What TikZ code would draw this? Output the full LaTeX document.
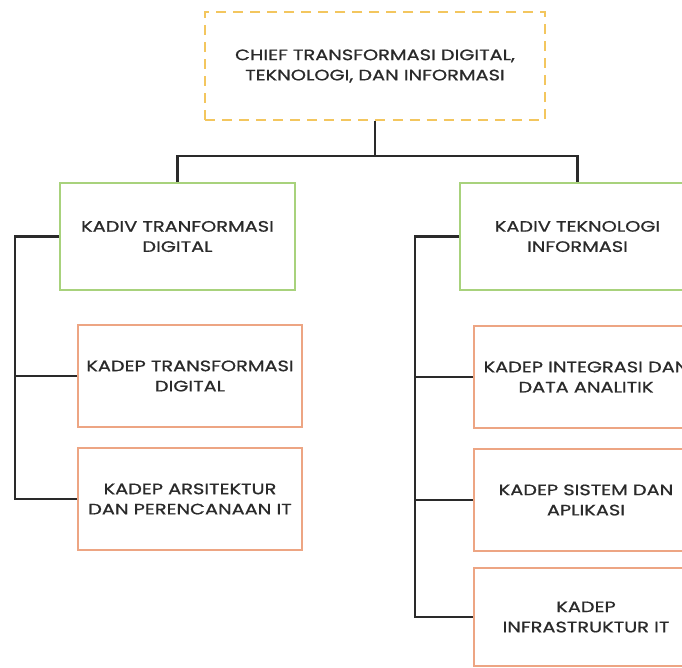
\documentclass[tikz,border=0pt]{standalone}
\usepackage{fontspec}
\setmainfont{Poppins}[FakeStretch=1.28, FakeBold=0.9]
\usepackage{tikz}

\definecolor{chiefline}{HTML}{F3C65E}
\definecolor{kadivline}{HTML}{A8D27C}
\definecolor{kadepline}{HTML}{EDA583}
\definecolor{inkgray}{HTML}{2A2A2A}

\tikzset{
  box/.style={draw, align=center, text=inkgray, font=\fontsize{8.6}{11.5}\selectfont, line width=0.9pt},
  chiefbox/.style={box, draw=chiefline, dash pattern=on 5.7pt off 4pt, minimum width=6.8cm, minimum height=2.16cm},
  kadivbox/.style={box, draw=kadivline, minimum width=4.7cm, minimum height=2.14cm},
  kadepbox/.style={box, draw=kadepline, minimum width=4.48cm, minimum height=2.04cm},
  link/.style={draw=inkgray, line width=1.2pt}
}

\begin{document}
\begin{tikzpicture}

\path[use as bounding box, clip] (0,0) rectangle (13.64,-13.36);

% Top Node
\node[chiefbox] (chief) at (7.5,-1.32) {CHIEF TRANSFORMASI DIGITAL,\\ TEKNOLOGI, DAN INFORMASI};

% Level 1: Divisions
\node[kadivbox] (kadivtd) at (3.55,-4.73) {KADIV TRANFORMASI\\ DIGITAL};
\node[kadivbox] (kadivti) at (11.55,-4.73) {KADIV TEKNOLOGI\\ INFORMASI};

% Level 2: Departments
% Under Transformasi Digital
\node[kadepbox] (kadeptd) at (3.8,-7.52) {KADEP TRANSFORMASI\\ DIGITAL};
\node[kadepbox] (kadepai) at (3.8,-9.98) {KADEP ARSITEKTUR\\ DAN PERENCANAAN IT};

% Under Teknologi Informasi
\node[kadepbox] (kadepida) at (11.72,-7.54) {KADEP INTEGRASI DAN\\ DATA ANALITIK};
\node[kadepbox] (kadepsa) at (11.72,-10.0) {KADEP SISTEM DAN\\ APLIKASI};
\node[kadepbox, minimum height=1.96cm] (kadepinfra) at (11.72,-12.34) {KADEP\\ INFRASTRUKTUR IT};

% Lines (Top to Level 1)
\draw[link] (chief.south) -- ++(0,-0.7) coordinate (split);
\draw[link] (kadivtd.north) |- (split) -| (kadivti.north);

% Lines (Level 1 to Level 2)
\draw[link] (kadivtd.west) -- ++(-0.88,0) |- (kadepai.west);
\draw[link] (kadeptd.west) -- ++(-1.24,0);

\draw[link] (kadivti.west) -- ++(-0.88,0) |- (kadepinfra.west);
\draw[link] (kadepida.west) -- ++(-1.16,0);
\draw[link] (kadepsa.west) -- ++(-1.16,0);

\end{tikzpicture}
\end{document}
